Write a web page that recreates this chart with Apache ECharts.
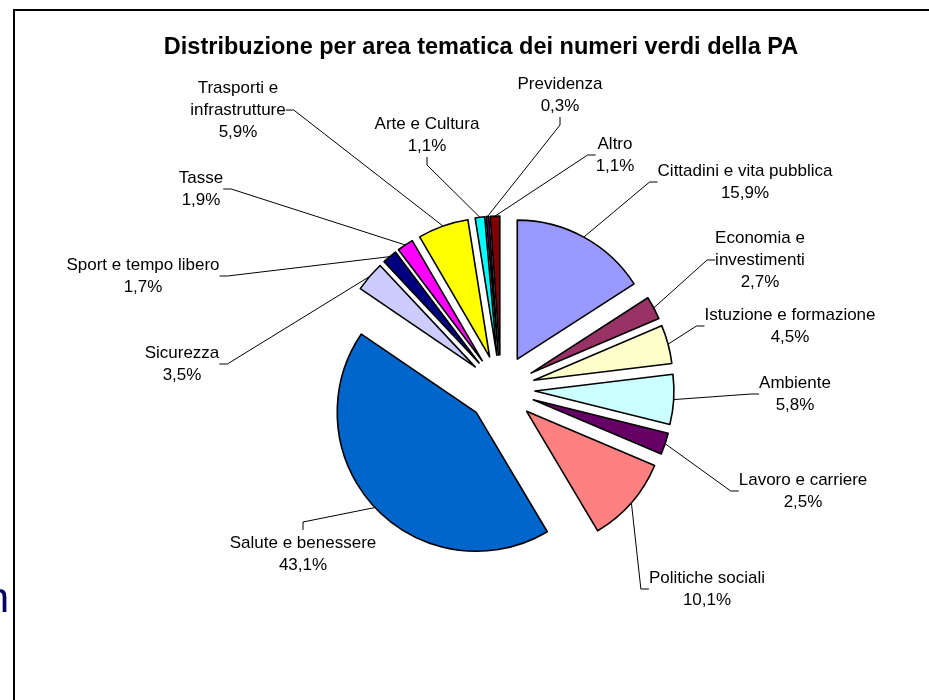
<!DOCTYPE html>
<html>
<head>
<meta charset="utf-8">
<title>Numeri verdi della PA</title>
<script src="https://cdn.jsdelivr.net/npm/echarts@6/dist/echarts.min.js"></script>
<style>
    html, body { margin: 0; padding: 0; background: #fff; }
    #main { width: 929px; height: 700px; }
</style>
</head>
<body>
<div id="main"></div>
<script type="text/javascript">
    // dati: aree tematiche (in senso orario a partire dalle ore 12)
    var categories = [
        'Cittadini e vita pubblica', 'Economia e\ninvestimenti', 'Istuzione e formazione',
        'Ambiente', 'Lavoro e carriere', 'Politiche sociali', 'Salute e benessere',
        'Sicurezza', 'Sport e tempo libero', 'Tasse', 'Trasporti e\ninfrastrutture',
        'Arte e Cultura', 'Previdenza', 'Altro'
    ];
    var values = [15.9, 2.7, 4.5, 5.8, 2.5, 10.1, 43.1, 3.5, 1.7, 1.9, 5.9, 1.1, 0.3, 1.1];
    var colors = [
        '#9999FF', '#993366', '#FFFFCC', '#CCFFFF', '#660066', '#FF8080', '#0066CC',
        '#CCCCFF', '#000080', '#FF00FF', '#FFFF00', '#00FFFF', '#800080', '#800000'
    ];
    // posizione (centro) delle etichette, come nel grafico originale
    var labelPos = [
        [745, 182], [760, 260], [790, 326], [795, 394], [803, 491], [707, 589], [303, 554],
        [182, 364], [143, 276], [201, 189], [238, 110], [427, 135], [560, 95], [615, 155]
    ];
    // etichette collegate dal bordo superiore (come in Excel)
    var topAnchored = [6];

    var font = '"Liberation Sans", Arial, sans-serif';
    var pieCenter = [501, 389];
    var pieRadius = 139;
    var explode = 34;   // distanza di esplosione delle fette

    var myChart = echarts.init(document.getElementById('main'));

    // angolo medio di ogni fetta (radianti, in senso orario dalle ore 12)
    var total = values.reduce(function (a, b) { return a + b; }, 0);
    var midAngles = [];
    var cum = 0;
    values.forEach(function (v) {
        midAngles.push((cum + v / 2) / total * Math.PI * 2);
        cum += v;
    });

    // una serie per fetta: stessa torta, ma solo la fetta i visibile e spostata lungo la sua bisettrice
    var series = values.map(function (v, i) {
        var mid = midAngles[i];
        var c = [pieCenter[0] + explode * Math.sin(mid), pieCenter[1] - explode * Math.cos(mid)];
        var data = categories.map(function (name, j) {
            if (j === i) {
                return { name: name, value: values[j], itemStyle: { color: colors[j] } };
            }
            return {
                name: name, value: values[j],
                itemStyle: { color: 'rgba(0,0,0,0)', borderWidth: 0 },
                label: { show: false },
                labelLine: { show: false }
            };
        });
        return {
            type: 'pie',
            center: c,
            radius: pieRadius,
            startAngle: 90,
            clockwise: true,
            silent: true,
            avoidLabelOverlap: false,
            itemStyle: { borderColor: '#000', borderWidth: 1.6 },
            emphasis: { disabled: true },
            label: {
                show: true,
                position: 'outside',
                color: '#000',
                fontFamily: font,
                fontSize: 17,
                lineHeight: 22,
                align: 'center',
                formatter: function (p) {
                    return p.name + '\n' + p.value.toFixed(1).replace('.', ',') + '%';
                }
            },
            labelLine: {
                show: true,
                length: 10,
                length2: 8,
                minTurnAngle: 0,
                lineStyle: { color: '#000', width: 1 }
            },
            labelLayout: function (params) {
                var k = params.dataIndex;
                var pos = labelPos[k];
                var res = { x: pos[0], y: pos[1], align: 'center', verticalAlign: 'middle' };
                if (topAnchored.indexOf(k) >= 0) {
                    var a = midAngles[k];
                    var p0 = [c[0] + pieRadius * Math.sin(a), c[1] - pieRadius * Math.cos(a)];
                    var topY = pos[1] - params.labelRect.height / 2;
                    res.labelLinePoints = [p0, [pos[0], topY - 10], [pos[0], topY - 2]];
                }
                return res;
            },
            data: data
        };
    });

    var option = {
        animation: false,
        backgroundColor: '#fff',
        title: {
            text: 'Distribuzione per area tematica dei numeri verdi della PA',
            left: 476,
            top: 31,
            textAlign: 'center',
            textStyle: { fontSize: 23.5, fontWeight: 'bold', color: '#000', fontFamily: font }
        },
        graphic: [
            {
                type: 'rect',
                shape: { x: 14, y: 10, width: 1000, height: 800 },
                style: { fill: 'none', stroke: '#000', lineWidth: 2 },
                silent: true
            },
            {
                type: 'text',
                x: 9, y: 600,
                style: {
                    text: 'n', fill: '#000066', font: '42px ' + font,
                    textAlign: 'right', textVerticalAlign: 'middle'
                },
                silent: true
            }
        ],
        series: series
    };
    myChart.setOption(option);
</script>
</body>
</html>
